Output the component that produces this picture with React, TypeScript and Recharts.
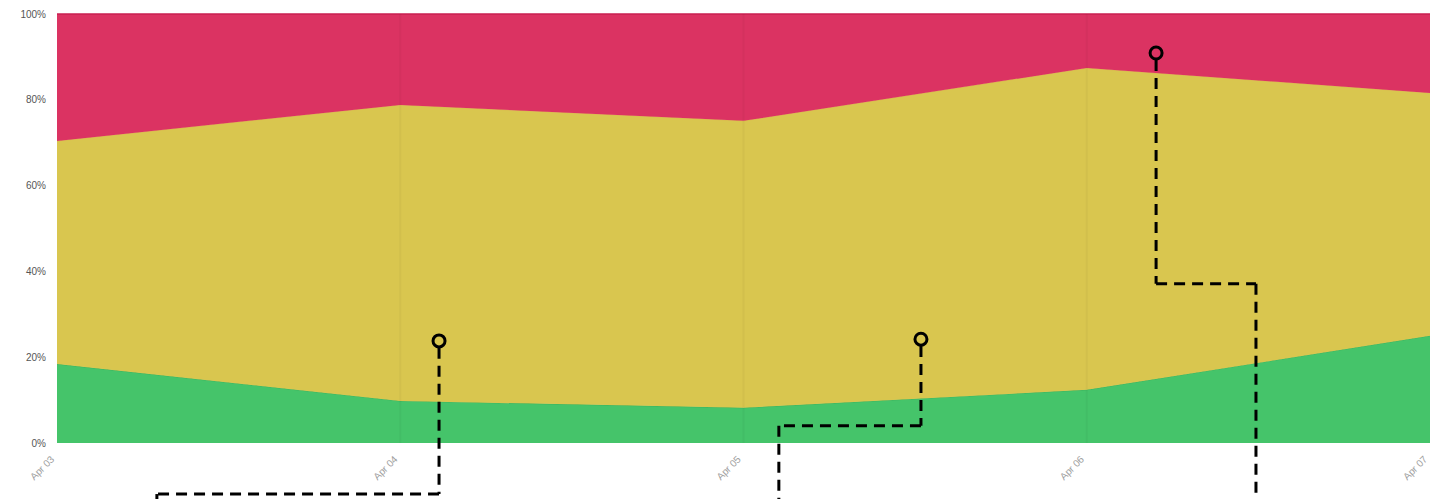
import { Area, AreaChart, ReferenceDot, ReferenceLine, XAxis, YAxis } from 'recharts'

const dates = ['Apr 03', 'Apr 04', 'Apr 05', 'Apr 06', 'Apr 07']
const green = [18.4, 9.8, 8.2, 12.4, 25.0]
const yellow = [52.0, 69.0, 66.9, 75.0, 56.6]
const red = [29.6, 21.2, 24.9, 12.6, 18.4]
const yTicks = [0, 20, 40, 60, 80, 100]

// callout leader lines drawn over the chart, in chart units (x = day index, y = percent)
const callouts = [
  { dot: [1.113, 23.8], path: [[1.113, 22.2], [1.113, -11.9], [0.291, -11.9], [0.291, -20]] },
  { dot: [2.517, 24.2], path: [[2.517, 22.6], [2.517, 4.0], [2.103, 4.0], [2.103, -20]] },
  { dot: [3.202, 90.9], path: [[3.202, 89.3], [3.202, 37.1], [3.493, 37.1], [3.493, -20]] },
]

const data = dates.map((d, i) => ({ idx: i, green: green[i], yellow: yellow[i], red: red[i] }))

function XTick(props: any) {
  const { x, y, payload } = props
  return (
    <g transform={`translate(${x - 2},${y + 9})`}>
      <text
        x={0}
        y={0}
        textAnchor="end"
        transform="rotate(-45)"
        fill="#a0a0a0"
        fontSize={10}
        fontFamily="Liberation Sans, Arial, sans-serif"
      >
        {dates[payload.value]}
      </text>
    </g>
  )
}

export default function App() {
  return (
    <div style={{ position: 'absolute', left: 0, top: 0, width: 1435, height: 499, background: '#fff' }}>
      <AreaChart
        width={1435}
        height={499}
        data={data}
        margin={{ top: 14, right: 5, bottom: 0, left: 0 }}
      >
        <XAxis
          dataKey="idx"
          type="number"
          domain={[0, 4]}
          ticks={[0, 1, 2, 3, 4]}
          height={56}
          axisLine={false}
          tickLine={false}
          tick={<XTick />}
          interval={0}
        />
        <YAxis
          type="number"
          domain={[0, 100]}
          ticks={yTicks}
          width={57}
          axisLine={false}
          tickLine={false}
          tickMargin={5}
          tickFormatter={(v) => `${v}%`}
          tick={{ fill: '#555', fontSize: 10, fontFamily: 'Liberation Sans, Arial, sans-serif' }}
        />
        <Area
          type="linear"
          dataKey="green"
          stackId="a"
          fill="#45c46a"
          fillOpacity={1}
          stroke="#3bb35d"
          strokeWidth={1}
          isAnimationActive={false}
        />
        <Area
          type="linear"
          dataKey="yellow"
          stackId="a"
          fill="#d9c64f"
          fillOpacity={1}
          stroke="#dcb54e"
          strokeWidth={1}
          isAnimationActive={false}
        />
        <Area
          type="linear"
          dataKey="red"
          stackId="a"
          fill="#db3362"
          fillOpacity={1}
          stroke="#c81f50"
          strokeWidth={1.5}
          isAnimationActive={false}
        />
        {[1, 2, 3].map((x) => (
          <ReferenceLine key={x} x={x} stroke="rgba(0,0,0,0.03)" strokeWidth={2} />
        ))}
        {callouts.map((c, ci) =>
          c.path.slice(1).map((p, i) => (
            <ReferenceLine
              key={`${ci}-${i}`}
              segment={[
                { x: c.path[i][0], y: c.path[i][1] },
                { x: p[0], y: p[1] },
              ]}
              stroke="#000"
              strokeWidth={3}
              strokeDasharray="11 7"
              ifOverflow="visible"
            />
          ))
        )}
        {callouts.map((c, ci) => (
          <ReferenceDot
            key={`dot-${ci}`}
            x={c.dot[0]}
            y={c.dot[1]}
            r={6}
            fill="none"
            stroke="#000"
            strokeWidth={3}
            ifOverflow="visible"
          />
        ))}
      </AreaChart>
    </div>
  )
}
